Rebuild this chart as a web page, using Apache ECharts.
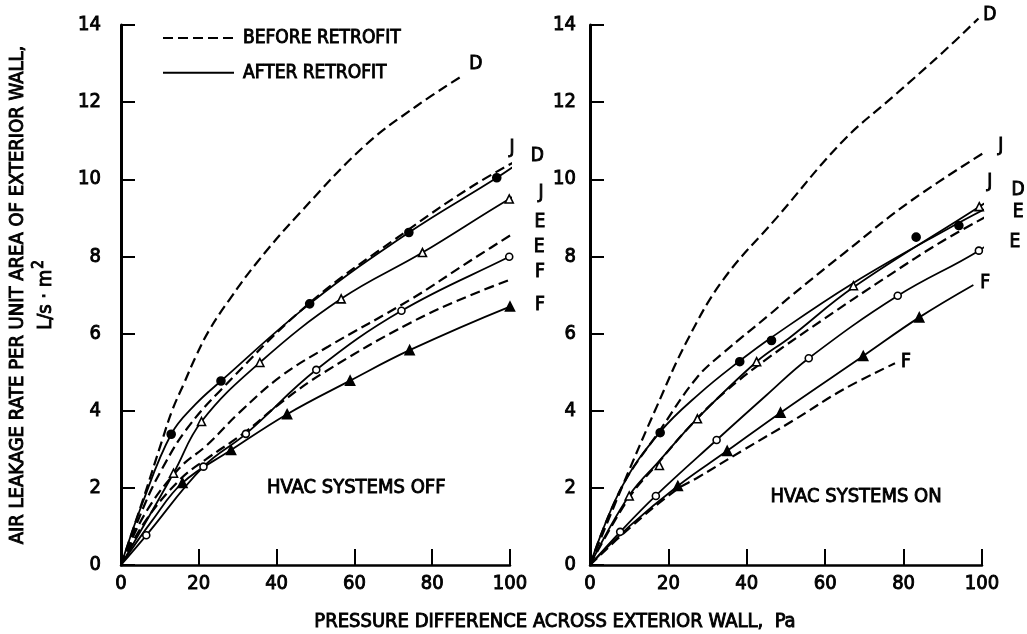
<!DOCTYPE html>
<html><head><meta charset="utf-8">
<script src="https://cdn.jsdelivr.net/npm/echarts@6/dist/echarts.min.js"></script>
<style>html,body{margin:0;padding:0;background:#fff}#c{width:1027px;height:634px}</style>
</head><body><div id="c"></div>
<script>
// ---- axes ----
const xMin = 0, xMax = 100, xStep = 20;
const yMin = 0, yMax = 14, yStep = 2;

// ---- HVAC SYSTEMS OFF (left panel): curves [pressure Pa, leakage L/s·m2] ----
const offDBefore = [[0,0],[5.9,1.77],[10.6,3.24],[13.2,4.02],[16.2,4.71],[19.2,5.4],[22.7,6.09],[27.8,6.87],[35,7.85],[45.9,9.12],[63,10.9],[76,11.9],[88,12.7]];
const offJBefore = [[0,0],[6,1.55],[10.6,2.5],[16.7,3.5],[25.3,4.5],[48,6.75],[74,8.7],[90,9.8],[101.3,10.46]];
const offEBefore = [[0,0],[6,1.3],[14.9,2.5],[22,3.1],[30.4,3.95],[41.2,4.9],[53.2,5.66],[74.2,6.87],[90,7.9],[105.6,8.9]];
const offFBefore = [[0,0],[6,1.1],[15,2.2],[22,2.75],[32,3.45],[41,4.2],[52.3,5.0],[74.2,6.27],[90,7.0],[105.5,7.6]];
const offDAfter = [[0,0],[5.5,1.6],[12.9,3.39],[19,4.15],[25.7,4.77],[48.5,6.77],[74,8.62],[96.6,10.04],[104,10.55]];
const offJAfter = [[0,0],[13.5,2.38],[20.7,3.72],[35.7,5.25],[56.6,6.9],[77.5,8.1],[99.8,9.49],[105,9.75]];
const offEAfter = [[0,0],[6.5,0.77],[21.2,2.55],[32.1,3.4],[50.2,5.06],[72.1,6.59],[99.8,7.99],[106,8.3]];
const offFAfter = [[0,0],[8,1.15],[15.8,2.13],[28.3,2.98],[42.7,3.91],[58.9,4.78],[74.2,5.57],[100,6.7],[105.6,6.85]];
// measured points (after retrofit)
const offDPts = [[12.9,3.39],[25.7,4.77],[48.5,6.77],[74,8.62],[96.6,10.04]];
const offJPts = [[13.5,2.38],[20.7,3.72],[35.7,5.25],[56.6,6.9],[77.5,8.1],[99.8,9.49]];
const offEPts = [[6.5,0.77],[21.2,2.55],[32.1,3.4],[50.2,5.06],[72.1,6.59],[99.8,7.99]];
const offFPts = [[15.8,2.13],[28.3,2.98],[42.7,3.91],[58.9,4.78],[74.2,5.57],[100,6.7]];
// curve labels
const offLabels = [[91.2,13.0,'D'],[100.5,10.8,'J'],[107,10.6,'D'],[108,9.64,'J'],[107.7,8.9,'E'],[107.5,8.24,'E'],[107.7,7.6,'F'],[107.7,6.74,'F']];

// ---- HVAC SYSTEMS ON (right panel) ----
const onDBefore = [[0,0],[8.5,2.1],[17,4.1],[24.7,5.8],[34,7.4],[47.6,9.0],[64.6,11.0],[77.4,12.15],[90.1,13.3],[99.1,14.17]];
const onJBefore = [[0,0],[8,2.0],[17.9,3.5],[27.2,4.85],[34,5.5],[45.9,6.5],[51,6.95],[65,8.1],[82,9.45],[103,10.85]];
const onEBefore = [[0,0],[10,1.75],[17,2.6],[25.5,3.6],[34,4.45],[45.9,5.4],[60,6.4],[75.7,7.47],[90,8.4],[105,9.25]];
const onFBefore = [[0,0],[10,0.95],[22,1.95],[27.2,2.25],[39.1,2.98],[51.9,3.75],[64.6,4.55],[77.8,5.23]];
const onDAfter = [[0,0],[8,2.0],[17.9,3.45],[28,4.45],[38.3,5.3],[46.3,5.9],[67,7.3],[91,8.7],[105,9.45]];
const onJAfter = [[0,0],[10,1.8],[17.7,2.7],[27.4,3.8],[42.5,5.27],[51,5.9],[67.2,7.2],[99.3,9.29],[104.6,9.65]];
const onEAfter = [[0,0],[7.7,0.86],[16.8,1.8],[32.3,3.24],[45,4.4],[55.8,5.36],[78.5,6.98],[99.2,8.15],[105.9,8.69]];
const onFAfter = [[0,0],[10,1.0],[22.4,2.05],[35,2.96],[48.6,3.95],[69.7,5.42],[84,6.42],[97.8,7.26]];
const onDPts = [[17.9,3.43],[38.2,5.27],[46.3,5.82],[83.2,8.5],[94.1,8.8]];
const onJPts = [[10,1.79],[17.7,2.58],[27.4,3.79],[42.5,5.27],[67.2,7.24],[99.3,9.29]];
const onEPts = [[7.7,0.86],[16.8,1.79],[32.3,3.24],[55.8,5.36],[78.5,6.98],[99.2,8.15]];
const onFPts = [[22.4,2.05],[35,2.96],[48.6,3.95],[69.7,5.42],[84,6.42]];
const onLabels = [[102,14.26,'D'],[104.8,10.86,'J'],[102,9.93,'J'],[109.2,9.72,'D'],[109.2,9.15,'E'],[108.4,8.37,'E'],[100.8,7.31,'F'],[80.6,5.26,'F']];

// panel captions
const captions = [[37.4, 2.0, 'HVAC SYSTEMS OFF'],[45.9, 1.76, 'HVAC SYSTEMS ON']];
const legendNames = ['BEFORE RETROFIT','AFTER RETROFIT'];
const yTitle = 'AIR LEAKAGE RATE PER UNIT AREA OF EXTERIOR WALL,';
const yUnit = 'L/s · m';
const xTitle = 'PRESSURE DIFFERENCE ACROSS EXTERIOR WALL,  Pa';

const FONT = "'Liberation Sans Narrow','DejaVu Sans Condensed','Liberation Sans',sans-serif";
const INK = '#000';
const TB = {textBorderColor:'#000', textBorderWidth:0.9};

function curve(data, dashed, gi){
  return {type:'line', xAxisIndex:gi, yAxisIndex:gi, data, symbol:'none', smooth:0.4,
    clip:false, silent:true, z:2,
    lineStyle:{color:INK, width: dashed?2.2:1.8, type: dashed?[10,5]:'solid'}};
}
function marks(data, sym, filled, gi, size){
  return {type:'scatter', xAxisIndex:gi, yAxisIndex:gi, data, symbol:sym, symbolSize:size, clip:false, silent:true, z:5,
    itemStyle:{color: filled?INK:'#fff', borderColor:INK, borderWidth:1.6, opacity:1}};
}
function texts(data, gi, size, pos){
  return {type:'scatter', xAxisIndex:gi, yAxisIndex:gi, data, symbolSize:1, clip:false, silent:true, z:6,
    itemStyle:{color:'rgba(0,0,0,0)', opacity:1},
    label:Object.assign({show:true, position:pos||'inside', distance:0, formatter:p=>p.value[2], color:INK, opacity:1,
      fontFamily:FONT, fontSize:size}, TB)};
}
function xAx(gi){
  return {type:'value', gridIndex:gi, min:xMin, max:xMax, interval:xStep,
    axisLine:{show:true, onZero:false, lineStyle:{color:INK, width:2.5}},
    axisTick:{show:true, inside:true, length:16, lineStyle:{color:INK, width:2}},
    axisLabel:Object.assign({color:INK, fontFamily:FONT, fontSize:20, margin:9}, TB),
    splitLine:{show:false}};
}
function yAx(gi, withName){
  const a = {type:'value', gridIndex:gi, min:yMin, max:yMax, interval:yStep,
    axisLine:{show:true, onZero:false, lineStyle:{color:INK, width:3}},
    axisTick:{show:true, inside:true, length:14, lineStyle:{color:INK, width:2}},
    axisLabel:Object.assign({color:INK, fontFamily:FONT, fontSize:20, margin:gi===0?20:14}, TB),
    splitLine:{show:false}};
  if(withName){
    a.name = '{t|' + yTitle + '}\n{u|' + yUnit + '}{s|2}';
    a.nameLocation = 'middle';
    a.nameRotate = 90;
    a.nameGap = 61;
    const st = Object.assign({fontSize:20, fontFamily:FONT, color:INK, lineHeight:28}, TB);
    a.nameTextStyle = {color:INK, fontFamily:FONT, align:'center', lineHeight:28,
      rich:{t:st, u:st,
            s:Object.assign({fontSize:15, fontFamily:FONT, color:INK, verticalAlign:'top', lineHeight:28, padding:[0,0,14,1]}, TB)}};
  }
  return a;
}

const series = [
  {name:legendNames[0], type:'line', data:[], symbol:'none', itemStyle:{color:INK, opacity:0}, lineStyle:{color:INK, width:2.2, type:[10,5]}},
  {name:legendNames[1], type:'line', data:[], symbol:'none', itemStyle:{color:INK, opacity:0}, lineStyle:{color:INK, width:1.8, type:'solid'}},
  curve(offDBefore,true,0), curve(offJBefore,true,0), curve(offEBefore,true,0), curve(offFBefore,true,0),
  curve(offDAfter,false,0), curve(offJAfter,false,0), curve(offEAfter,false,0), curve(offFAfter,false,0),
  marks(offDPts,'circle',true,0,8), marks(offJPts,'triangle',false,0,8), marks(offEPts,'circle',false,0,7), marks(offFPts,'triangle',true,0,9),
  texts(offLabels,0,19),
  curve(onDBefore,true,1), curve(onJBefore,true,1), curve(onEBefore,true,1), curve(onFBefore,true,1),
  curve(onDAfter,false,1), curve(onJAfter,false,1), curve(onEAfter,false,1), curve(onFAfter,false,1),
  marks(onDPts,'circle',true,1,8), marks(onJPts,'triangle',false,1,8), marks(onEPts,'circle',false,1,7), marks(onFPts,'triangle',true,1,9),
  texts(onLabels,1,19),
  texts([captions[0]],0,20,'right'),
  texts([captions[1]],1,20,'right')
];

const chart = echarts.init(document.getElementById('c'), null, {renderer:'canvas'});
chart.setOption({
  animation:false,
  backgroundColor:'#fff',
  title:{text:xTitle, left:550, top:607, textAlign:'center',
    textStyle:Object.assign({color:INK, fontFamily:FONT, fontSize:20, fontWeight:'normal'}, TB)},
  legend:{data:legendNames, orient:'vertical', left:157, top:23, itemWidth:71, itemHeight:14, itemGap:15,
    itemStyle:{opacity:0},
    textStyle:Object.assign({color:INK, fontFamily:FONT, fontSize:19, padding:[0,0,0,4]}, TB), selectedMode:false},
  grid:[{left:121, top:25, width:389, height:540, outerBoundsMode:'none'},
        {left:590, top:25, width:392, height:540, outerBoundsMode:'none'}],
  xAxis:[xAx(0), xAx(1)],
  yAxis:[yAx(0,true), yAx(1,false)],
  series
});
</script></body></html>
